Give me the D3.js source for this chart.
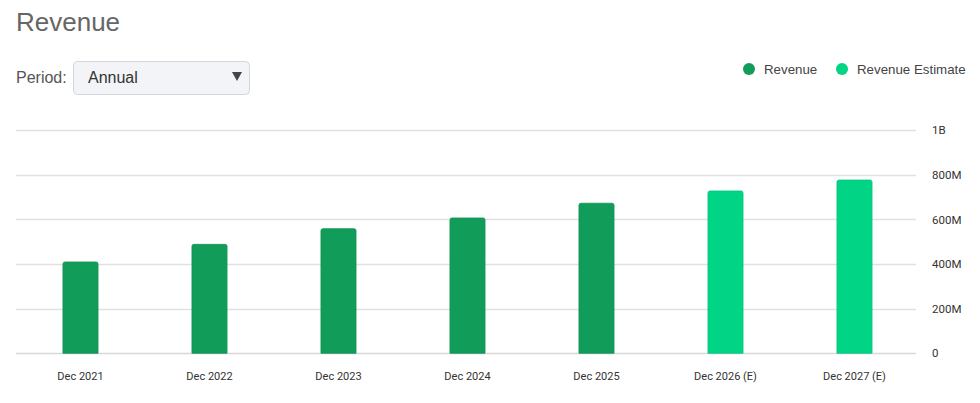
<!DOCTYPE html>
<html>
<head>
<meta charset="utf-8">
<script src="https://cdn.jsdelivr.net/npm/d3@7"></script>
<style>
  html, body { margin: 0; padding: 0; background: #fff; }
  svg { display: block; }
</style>
</head>
<body>
<div id="chart"></div>
<script>
const width = 980;
const height = 403;

const categories = ['Dec 2021', 'Dec 2022', 'Dec 2023', 'Dec 2024', 'Dec 2025', 'Dec 2026 (E)', 'Dec 2027 (E)'];
const revenue = [409e6, 488e6, 558e6, 606e6, 672e6, null, null];
const revenueEstimate = [null, null, null, null, null, 727e6, 776e6];
const yTicks = [0, 200e6, 400e6, 600e6, 800e6, 1e9];
const yTickLabels = ['0', '200M', '400M', '600M', '800M', '1B'];
const seriesNames = ['Revenue', 'Revenue Estimate'];
const seriesColors = ['#129c59', '#02d485'];

const svg = d3.select('#chart').append('svg')
    .attr('width', width)
    .attr('height', height);

const font = '"Liberation Sans", Arial, sans-serif';

// header
svg.append('text')
    .attr('x', 16).attr('y', 31)
    .attr('font-family', font)
    .attr('font-size', 26)
    .attr('fill', '#666')
    .text('Revenue');

svg.append('text')
    .attr('x', 16).attr('y', 83)
    .attr('font-family', font)
    .attr('font-size', 16)
    .attr('fill', '#555')
    .text('Period:');

const dd = svg.append('g');
dd.append('rect')
    .attr('x', 73.5).attr('y', 61.5)
    .attr('width', 176).attr('height', 33)
    .attr('rx', 4)
    .attr('fill', '#f2f4f7')
    .attr('stroke', '#d4d6da');
dd.append('text')
    .attr('x', 88).attr('y', 83)
    .attr('font-family', font)
    .attr('font-size', 16)
    .attr('fill', '#333')
    .text('Annual');
dd.append('path')
    .attr('d', 'M232,72 L242,72 L237,81 Z')
    .attr('fill', '#444');

// legend
const legend = svg.append('g')
    .attr('font-family', font)
    .attr('font-size', 13.3)
    .attr('fill', '#444');
const legendX = [749, 842];
seriesNames.forEach((name, i) => {
  legend.append('circle')
      .attr('cx', legendX[i]).attr('cy', 69)
      .attr('r', 6)
      .attr('fill', seriesColors[i]);
  legend.append('text')
      .attr('x', legendX[i] + 15).attr('y', 74)
      .attr('fill', '#444')
      .text(name);
});

// chart
const x = d3.scaleBand()
    .domain(categories)
    .range([16, 919])
    .paddingInner(0.728)
    .paddingOuter(0.364);

const y = d3.scaleLinear()
    .domain([0, 1e9])
    .range([353.3, 130]);

const grid = svg.append('g');
grid.selectAll('line')
  .data(yTicks)
  .join('line')
    .attr('x1', 16).attr('x2', 916)
    .attr('y1', d => Math.round(y(d)) + 0.5)
    .attr('y2', d => Math.round(y(d)) + 0.5)
    .attr('stroke', d => d === 0 ? '#d8d8d8' : '#e1e1e1')
    .attr('stroke-width', 1.5);

const yAxis = d3.axisRight(y)
    .tickValues(yTicks)
    .tickFormat((d, i) => yTickLabels[i])
    .tickSize(0)
    .tickPadding(0);

svg.append('g')
    .attr('transform', 'translate(932,0)')
    .call(yAxis)
    .call(g => g.select('.domain').remove())
    .call(g => g.selectAll('text')
        .attr('font-family', 'Roboto, sans-serif')
        .attr('font-size', 11.5)
        .attr('fill', '#333'));

const xAxis = d3.axisBottom(x).tickSize(0).tickPadding(0);
svg.append('g')
    .attr('transform', 'translate(0,372)')
    .call(xAxis)
    .call(g => g.select('.domain').remove())
    .call(g => g.selectAll('text')
        .attr('font-family', 'Roboto, sans-serif')
        .attr('font-size', 11)
        .attr('fill', '#333'));

function topRounded(x0, y0, w, h, r) {
  return `M${x0},${y0 + h} L${x0},${y0 + r} Q${x0},${y0} ${x0 + r},${y0} ` +
    `L${x0 + w - r},${y0} Q${x0 + w},${y0} ${x0 + w},${y0 + r} L${x0 + w},${y0 + h} Z`;
}

[revenue, revenueEstimate].forEach((series, si) => {
  const data = categories.map((c, i) => ({ c, v: series[i] })).filter(d => d.v != null);
  svg.append('g').selectAll('path')
    .data(data)
    .join('path')
      .attr('d', d => topRounded(x(d.c), y(d.v), x.bandwidth(), y(0) - y(d.v), 2))
      .attr('fill', seriesColors[si])
      .attr('stroke', d3.color(seriesColors[si]).darker(0.15))
      .attr('stroke-width', 0.8);
});
</script>
</body>
</html>
